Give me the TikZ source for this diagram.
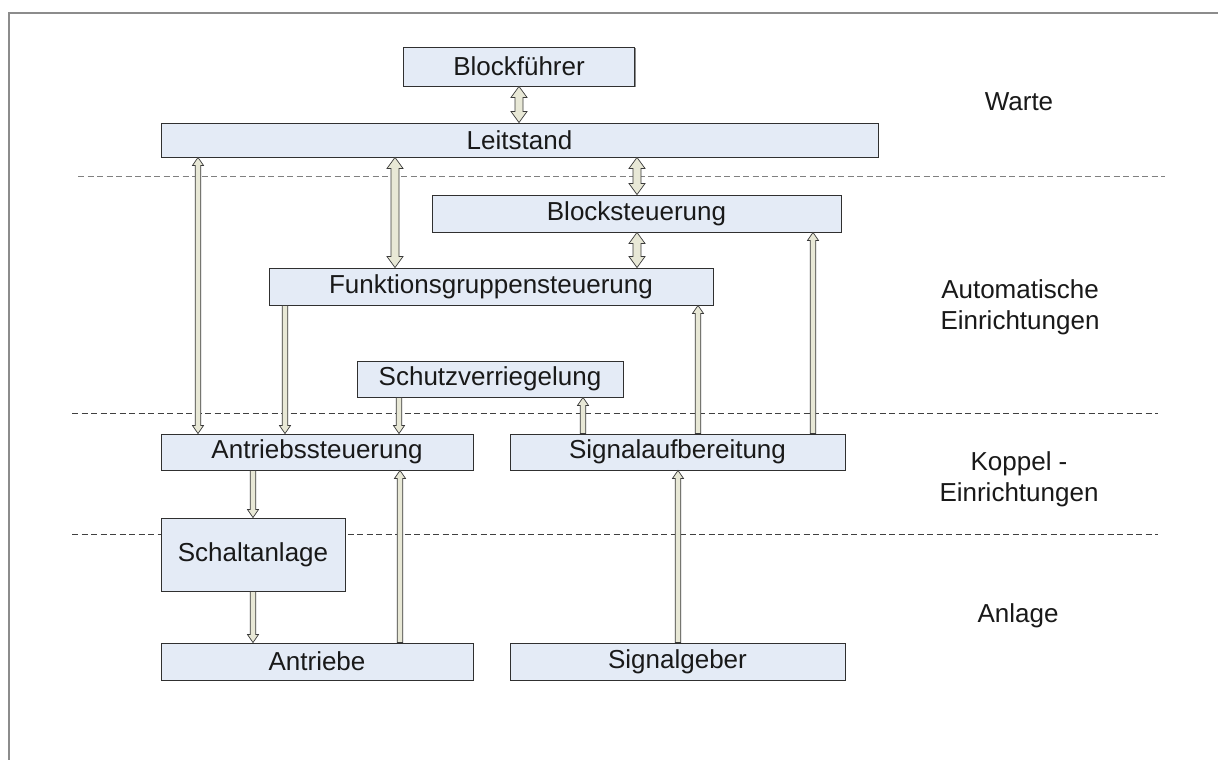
\documentclass[tikz,border=0pt]{standalone}
\usepackage{fontspec}
\setmainfont{Liberation Sans}
\usetikzlibrary{calc,shadows}
\definecolor{boxfill}{HTML}{E4EBF6}
\definecolor{boxline}{HTML}{303030}
\definecolor{arrfill}{HTML}{E8E8D6}
\definecolor{arrline}{HTML}{3A3A3A}
\newcommand\thinarr{\def\aw{2.8pt}\def\ah{5.5pt}\def\al{8pt}}
\newcommand\bigarr{\def\aw{4pt}\def\ah{8pt}\def\al{11pt}}
% both heads: x, top node, bottom node
\newcommand\arrBoth[3]{%
 \draw[arr] let \p1=(#2.south), \p2=(#3.north) in
 (#1pt-\aw,\y1-\al) -- (#1pt-\ah,\y1-\al) -- (#1pt,\y1) -- (#1pt+\ah,\y1-\al) -- (#1pt+\aw,\y1-\al)
 -- (#1pt+\aw,\y2+\al) -- (#1pt+\ah,\y2+\al) -- (#1pt,\y2) -- (#1pt-\ah,\y2+\al) -- (#1pt-\aw,\y2+\al) -- cycle;}
% head at top (arrow points up to top node)
\newcommand\arrUp[3]{%
 \draw[arr] let \p1=(#2.south), \p2=(#3.north) in
 (#1pt-\aw,\y2) -- (#1pt-\aw,\y1-\al) -- (#1pt-\ah,\y1-\al) -- (#1pt,\y1) -- (#1pt+\ah,\y1-\al)
 -- (#1pt+\aw,\y1-\al) -- (#1pt+\aw,\y2) -- cycle;}
% head at bottom (arrow points down to bottom node)
\newcommand\arrDown[3]{%
 \draw[arr] let \p1=(#2.south), \p2=(#3.north) in
 (#1pt-\aw,\y1) -- (#1pt+\aw,\y1) -- (#1pt+\aw,\y2+\al) -- (#1pt+\ah,\y2+\al) -- (#1pt,\y2)
 -- (#1pt-\ah,\y2+\al) -- (#1pt-\aw,\y2+\al) -- cycle;}
\begin{document}
\begin{tikzpicture}[x=1pt,y=1pt,
  box/.style={draw=boxline,line width=0.9pt,fill=boxfill,inner sep=0pt,
    font=\fontsize{26}{31}\selectfont,text=black!90,
    drop shadow={shadow xshift=1.2pt,shadow yshift=-1.2pt,fill=black!45,opacity=1}},
  arr/.style={draw=arrline,line width=0.7pt,fill=arrfill,line join=miter},
  sep/.style={dashed,dash pattern=on 6pt off 3.5pt,line width=1pt},
  lab/.style={font=\fontsize{26}{31}\selectfont,align=center,text=black!90}]
\useasboundingbox (0,0) rectangle (1218,760);
\fill[white] (0,0) rectangle (1218,760);
\draw[line width=2pt,draw=black!45] (8.5,0) -- (8.5,746.5) -- (1218,746.5);

% separators
\draw[sep,draw=black!50] (78,583) -- (1165,583);
\draw[sep,draw=black!75] (72,346) -- (1158,346);
\draw[sep,draw=black!75] (72,225) -- (1158,225);

% boxes
\node[box,minimum width=231pt,minimum height=39pt] (bf) at (519,693.5) {Blockführer};
\node[box,minimum width=717pt,minimum height=34pt] (ls) at (519.5,620) {Leitstand};
\node[box,minimum width=409pt,minimum height=37pt] (bs) at (636.5,546.5) {Blocksteuerung};
\node[box,minimum width=444pt,minimum height=37pt] (fg) at (491,473.5) {Funktionsgruppensteuerung};
\node[box,minimum width=266pt,minimum height=36pt] (sv) at (490,381) {Schutzverriegelung};
\node[box,minimum width=312pt,minimum height=36pt] (as) at (317,308) {Antriebssteuerung};
\node[box,minimum width=335pt,minimum height=36pt] (sa) at (677.5,308) {Signalaufbereitung};
\node[box,minimum width=184pt,minimum height=73pt] (sch) at (253,205.5) {Schaltanlage};
\node[box,minimum width=312pt,minimum height=37pt] (an) at (317,98.5) {Antriebe};
\node[box,minimum width=335pt,minimum height=37pt] (sg) at (677.5,98.5) {Signalgeber};

% level labels
\node[lab] (l1) at (1019,658) {Warte};
\node[lab] (l2) at (1020,453) {Automatische\\Einrichtungen};
\node[lab] (l3) at (1019,281) {Koppel -\\Einrichtungen};
\node[lab] (l4) at (1018,144) {Anlage};

% arrows
\bigarr
\arrBoth{519}{bf}{ls}
\arrBoth{637}{ls}{bs}
\arrBoth{637}{bs}{fg}
\arrBoth{395}{ls}{fg}
\thinarr
\arrBoth{198}{ls}{as}
\arrDown{285}{fg}{as}
\arrDown{399}{sv}{as}
\arrDown{253}{as}{sch}
\arrDown{253}{sch}{an}
\arrUp{583}{sv}{sa}
\arrUp{698}{fg}{sa}
\arrUp{813}{bs}{sa}
\arrUp{400}{as}{an}
\arrUp{678}{sa}{sg}
\end{tikzpicture}
\end{document}
